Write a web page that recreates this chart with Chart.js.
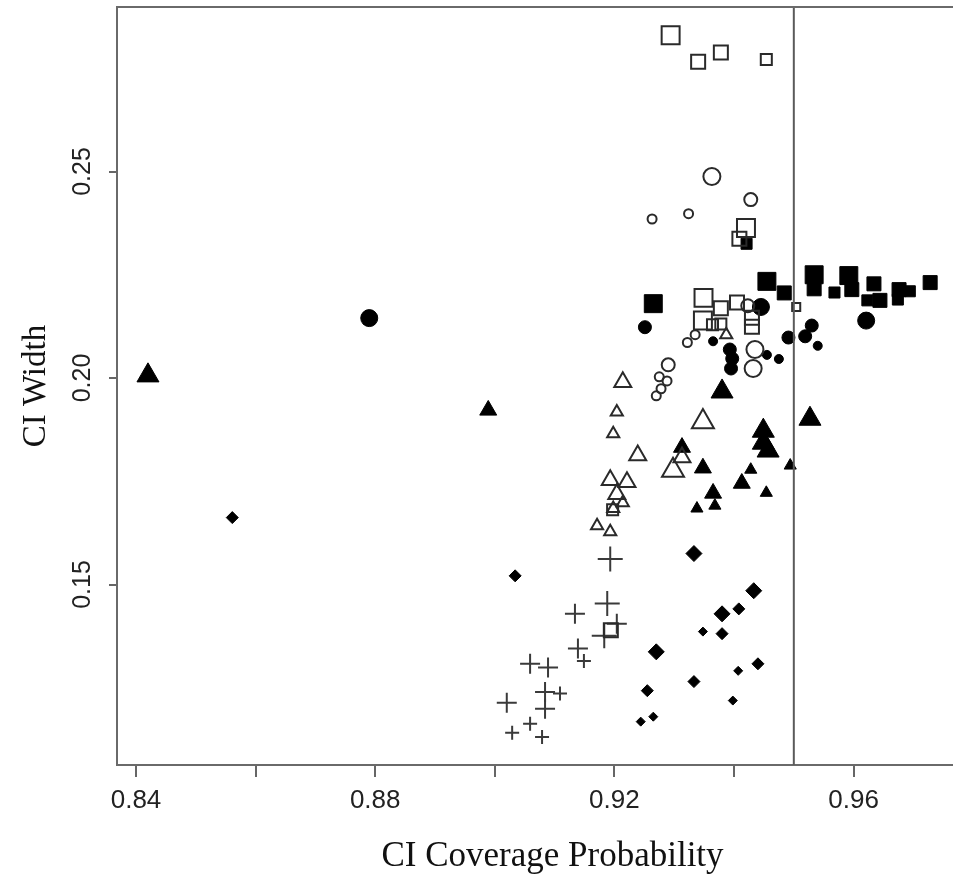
<!DOCTYPE html>
<html>
<head>
<meta charset="utf-8">
<script src="https://cdn.jsdelivr.net/npm/chart.js@4.4.1/dist/chart.umd.min.js"></script>
<style>
html,body{margin:0;padding:0;background:#fff;}
canvas{display:block;}
</style>
</head>
<body>
<canvas id="c" width="953" height="884" style="width:953px;height:884px"></canvas>
<script>
// ---------- data (x = CI coverage probability, y = CI width, lvl = symbol size class) ----------
const openSquareX = [0.9294,0.9340,0.9378,0.9454,0.9420,0.9409,0.9349,0.9378,0.9405,0.9504,0.9348,0.9430,0.9430,0.9364,0.9378,0.9197,0.9194];
const openSquareY = [0.2830,0.2766,0.2788,0.2771,0.2363,0.2337,0.2194,0.2169,0.2183,0.2172,0.2139,0.2146,0.2124,0.2129,0.2131,0.1681,0.1389];
const openSquareLvl = [3,2,2,1,3,2,3,2,2,0,3,2,2,1,1,1,2];

const filledSquareX = [0.9265,0.9455,0.9484,0.9534,0.9534,0.9568,0.9592,0.9597,0.9634,0.9623,0.9644,0.9676,0.9674,0.9694,0.9728,0.9421];
const filledSquareY = [0.2180,0.2234,0.2206,0.2250,0.2216,0.2207,0.2248,0.2214,0.2228,0.2188,0.2188,0.2214,0.2190,0.2210,0.2231,0.2325];
const filledSquareLvl = [3,3,2,3,2,1,3,2,2,1,2,2,1,1,2,1];

const openCircleX = [0.9363,0.9428,0.9324,0.9263,0.9423,0.9335,0.9322,0.9435,0.9432,0.9290,0.9275,0.9288,0.9278,0.9270];
const openCircleY = [0.2488,0.2432,0.2398,0.2385,0.2175,0.2105,0.2086,0.2069,0.2023,0.2032,0.2003,0.1993,0.1974,0.1957];
const openCircleLvl = [3,2,1,1,2,1,1,3,3,2,1,1,1,1];

const filledCircleX = [0.8790,0.9251,0.9445,0.9365,0.9393,0.9397,0.9395,0.9455,0.9475,0.9491,0.9519,0.9530,0.9540,0.9621];
const filledCircleY = [0.2145,0.2123,0.2172,0.2089,0.2069,0.2047,0.2023,0.2056,0.2046,0.2098,0.2101,0.2127,0.2078,0.2139];
const filledCircleLvl = [3,2,3,1,2,2,2,1,1,2,2,2,1,3];

const openTriangleX = [0.9214,0.9204,0.9198,0.9348,0.9239,0.9313,0.9298,0.9193,0.9221,0.9204,0.9214,0.9198,0.9171,0.9193,0.9387];
const openTriangleY = [0.1990,0.1918,0.1865,0.1894,0.1813,0.1808,0.1776,0.1753,0.1748,0.1719,0.1698,0.1684,0.1642,0.1628,0.2105];
const openTriangleLvl = [2,1,1,3,2,2,3,2,2,2,1,1,1,1,1];

const filledTriangleX = [0.8420,0.8989,0.9380,0.9527,0.9449,0.9449,0.9457,0.9313,0.9348,0.9428,0.9413,0.9454,0.9494,0.9365,0.9368,0.9338];
const filledTriangleY = [0.2006,0.1922,0.1967,0.1901,0.1872,0.1843,0.1824,0.1832,0.1782,0.1778,0.1745,0.1722,0.1788,0.1721,0.1691,0.1684];
const filledTriangleLvl = [3,2,3,3,3,3,3,2,2,1,2,1,1,2,1,1];

const plusX = [0.9193,0.9188,0.9134,0.9204,0.9183,0.9139,0.9149,0.9059,0.9089,0.9084,0.9109,0.9020,0.9084,0.9059,0.9029,0.9079];
const plusY = [0.1562,0.1454,0.1429,0.1405,0.1376,0.1345,0.1315,0.1308,0.1299,0.1240,0.1236,0.1214,0.1199,0.1163,0.1141,0.1131];
const plusLvl = [3,3,2,2,3,2,1,2,2,2,1,2,2,1,1,1];

const diamondX = [0.8561,0.9034,0.9333,0.9433,0.9380,0.9408,0.9348,0.9380,0.9270,0.9333,0.9440,0.9407,0.9255,0.9398,0.9244,0.9265];
const diamondY = [0.1662,0.1521,0.1575,0.1485,0.1429,0.1441,0.1386,0.1381,0.1337,0.1265,0.1308,0.1291,0.1243,0.1219,0.1168,0.1180];
const diamondLvl = [2,2,3,3,3,2,1,2,3,2,2,1,2,1,1,1];

const nominalCoverage = 0.95;
const xTickValues = [0.84,0.86,0.88,0.90,0.92,0.94,0.96];
const xTickLabels = ['0.84','','0.88','','0.92','','0.96'];
const yTickValues = [0.15,0.20,0.25];
const yTickLabels = ['0.15','0.20','0.25'];
const xTitle = 'CI Coverage Probability';
const yTitle = 'CI Width';

// ---------- styling ----------
const X_MIN = 0.83682, X_MAX = 0.97662, Y_MIN = 0.10630, Y_MAX = 0.28983;
const radii = {
  rect:     [5.7, 7.8, 9.9, 12.7],
  circle:   [3.5, 4.5, 6.5, 8.5],
  triangle: [5.5, 7.0, 9.8, 12.7],
  cross:    [5.5, 7.0, 10.0, 12.5],
  rectRot:  [3.5, 4.5, 6.0, 8.0]
};
function pts(xs, ys){ return xs.map((x,i)=>({x:x, y:ys[i]})); }
function ds(xs, ys, lvl, style, filled, color){
  return {
    data: pts(xs, ys),
    pointStyle: style,
    pointRadius: lvl.map(l => radii[style][l]),
    pointHoverRadius: lvl.map(l => radii[style][l]),
    backgroundColor: filled ? '#000' : 'rgba(0,0,0,0)',
    borderColor: color,
    borderWidth: filled ? 1 : 2,
    showLine: false
  };
}

const frame = {
  id: 'frame',
  afterDatasetsDraw(chart){
    const a = chart.chartArea, ctx = chart.ctx;
    ctx.save();
    ctx.strokeStyle = '#6a6a6a';
    ctx.lineWidth = 2;
    ctx.beginPath();
    ctx.moveTo(a.left, a.top);
    ctx.lineTo(a.right + 2, a.top);
    ctx.stroke();
    ctx.restore();
  }
};

new Chart(document.getElementById('c'), {
  type: 'scatter',
  data: {
    datasets: [
      {
        data: [{x: nominalCoverage, y: Y_MIN}, {x: nominalCoverage, y: Y_MAX}],
        showLine: true, pointRadius: 0, borderColor: '#5a5a5a', borderWidth: 2, fill: false
      },
      ds(openSquareX, openSquareY, openSquareLvl, 'rect', false, '#2a2a2a'),
      ds(filledSquareX, filledSquareY, filledSquareLvl, 'rect', true, '#000'),
      ds(openCircleX, openCircleY, openCircleLvl, 'circle', false, '#2a2a2a'),
      ds(filledCircleX, filledCircleY, filledCircleLvl, 'circle', true, '#000'),
      ds(openTriangleX, openTriangleY, openTriangleLvl, 'triangle', false, '#2a2a2a'),
      ds(filledTriangleX, filledTriangleY, filledTriangleLvl, 'triangle', true, '#000'),
      ds(plusX, plusY, plusLvl, 'cross', false, '#3a3a3a'),
      ds(diamondX, diamondY, diamondLvl, 'rectRot', true, '#000')
    ]
  },
  options: {
    responsive: false,
    animation: false,
    devicePixelRatio: 1,
    layout: { autoPadding: false, padding: { top: 7, right: 0, left: 0, bottom: 0 } },
    plugins: { legend: { display: false }, tooltip: { enabled: false } },
    scales: {
      x: {
        type: 'linear', min: X_MIN, max: X_MAX,
        afterBuildTicks(s){ s.ticks = xTickValues.map(v => ({value: v})); },
        afterFit(s){ s.height = 119; },
        ticks: {
          autoSkip: false, maxRotation: 0, minRotation: 0, padding: 8,
          color: '#222', font: { family: 'Liberation Sans', size: 26 },
          callback(v){ const i = xTickValues.findIndex(t => Math.abs(t - v) < 1e-9); return i >= 0 ? xTickLabels[i] : ''; }
        },
        grid: { drawOnChartArea: false, drawTicks: true, tickLength: 12, color: '#666', lineWidth: 2 },
        border: { display: true, color: '#6a6a6a', width: 2 },
        title: { display: true, text: '    ' + xTitle, color: '#111', font: { family: 'Liberation Serif', size: 35 }, padding: { top: 0, bottom: 6 } }
      },
      y: {
        type: 'linear', min: Y_MIN, max: Y_MAX,
        afterBuildTicks(s){ s.ticks = yTickValues.map(v => ({value: v})); },
        afterFit(s){ s.width = 117; },
        ticks: {
          autoSkip: false, minRotation: 90, maxRotation: 90, crossAlign: 'center', padding: 2,
          color: '#222', font: { family: 'Liberation Sans', size: 25, lineHeight: 0.3 },
          callback(v){ const i = yTickValues.findIndex(t => Math.abs(t - v) < 1e-9); return i >= 0 ? yTickLabels[i] : ''; }
        },
        grid: { drawOnChartArea: false, drawTicks: true, tickLength: 8, color: '#666', lineWidth: 2 },
        border: { display: true, color: '#6a6a6a', width: 2 },
        title: { display: true, text: yTitle, color: '#111', font: { family: 'Liberation Serif', size: 33 }, padding: { top: 17, bottom: 0 } }
      }
    }
  },
  plugins: [frame]
});
</script>
</body>
</html>
